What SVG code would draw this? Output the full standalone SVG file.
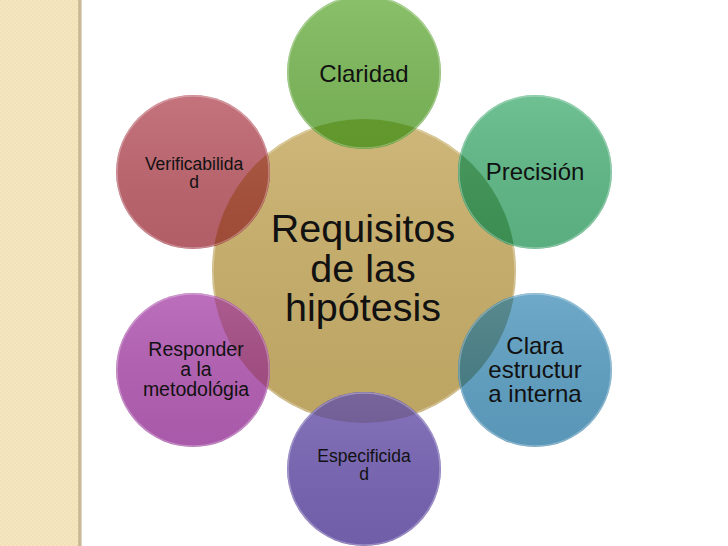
<svg xmlns="http://www.w3.org/2000/svg" width="728" height="546" viewBox="0 0 728 546">
<style>
  .lbl { font-family: "Liberation Sans", Arial, sans-serif; fill: #111; text-anchor: middle; }
  .rim { fill: none; stroke: #ffffff; stroke-opacity: 0.3; stroke-width: 1.5; }
</style>
<defs>
  <clipPath id="cc"><circle cx="364" cy="271" r="152"/></clipPath>
  <linearGradient id="gloss" x1="0" y1="0" x2="0" y2="1">
    <stop offset="0" stop-color="#fff" stop-opacity="0.10"/>
    <stop offset="1" stop-color="#000" stop-opacity="0.06"/>
  </linearGradient>
  <linearGradient id="edge" x1="0" y1="0" x2="1" y2="0">
    <stop offset="0" stop-color="#d9c9a4"/>
    <stop offset="0.5" stop-color="#bfae8a"/>
    <stop offset="1" stop-color="#e8e0cf"/>
  </linearGradient>
  <pattern id="chk" width="4" height="4" patternUnits="userSpaceOnUse">
    <rect width="4" height="4" fill="#f6e6bf"/>
    <rect width="2" height="2" fill="#f2e1b8"/>
    <rect x="2" y="2" width="2" height="2" fill="#f2e1b8"/>
  </pattern>
</defs>
<rect width="728" height="546" fill="#ffffff"/>
<g id="panel">
  <rect x="0" y="0" width="78" height="546" fill="url(#chk)"/>
  <rect x="78" y="0" width="4" height="546" fill="url(#edge)"/>
</g>
<g id="center">
  <circle cx="364" cy="271" r="152" fill="#c9af6a"/>
  <circle cx="364" cy="271" r="152" fill="url(#gloss)"/>
  <circle cx="364" cy="271" r="151" class="rim" stroke-opacity="0.2"/>
</g>
<g id="claridad">
  <circle cx="364" cy="72" r="77" fill="#7db95a"/>
  <circle cx="364" cy="72" r="77" fill="#67a02e" clip-path="url(#cc)"/>
  <circle cx="364" cy="72" r="77" fill="url(#gloss)"/>
  <circle cx="364" cy="72" r="76" class="rim"/>
  <text class="lbl" x="364" y="82" font-size="24">Claridad</text>
</g>
<g id="precision">
  <circle cx="535" cy="172" r="77" fill="#5fb987"/>
  <circle cx="535" cy="172" r="77" fill="#3f9657" clip-path="url(#cc)"/>
  <circle cx="535" cy="172" r="77" fill="url(#gloss)"/>
  <circle cx="535" cy="172" r="76" class="rim"/>
  <text class="lbl" x="535" y="180" font-size="24">Precisión</text>
</g>
<g id="clara-estructura">
  <circle cx="535" cy="370" r="77" fill="#5fa0c3"/>
  <circle cx="535" cy="370" r="77" fill="#467d84" clip-path="url(#cc)"/>
  <circle cx="535" cy="370" r="77" fill="url(#gloss)"/>
  <circle cx="535" cy="370" r="76" class="rim"/>
  <text class="lbl" x="535" y="354" font-size="24">Clara</text>
  <text class="lbl" x="535" y="378" font-size="24">estructur</text>
  <text class="lbl" x="535" y="402" font-size="24">a interna</text>
</g>
<g id="especificidad">
  <circle cx="364" cy="469" r="77" fill="#7864b4"/>
  <circle cx="364" cy="469" r="77" fill="#685491" clip-path="url(#cc)"/>
  <circle cx="364" cy="469" r="77" fill="url(#gloss)"/>
  <circle cx="364" cy="469" r="76" class="rim"/>
  <text class="lbl" x="364" y="462" font-size="17.5">Especificida</text>
  <text class="lbl" x="364" y="480" font-size="17.5">d</text>
</g>
<g id="responder">
  <circle cx="193" cy="370" r="77" fill="#b45fb4"/>
  <circle cx="193" cy="370" r="77" fill="#a34a82" clip-path="url(#cc)"/>
  <circle cx="193" cy="370" r="77" fill="url(#gloss)"/>
  <circle cx="193" cy="370" r="76" class="rim"/>
  <text class="lbl" x="196" y="356" font-size="19.5">Responder</text>
  <text class="lbl" x="196" y="376" font-size="19.5">a la</text>
  <text class="lbl" x="196" y="396" font-size="19.5">metodológia</text>
</g>
<g id="verificabilidad">
  <circle cx="193" cy="172" r="77" fill="#be646e"/>
  <circle cx="193" cy="172" r="77" fill="#a8503a" clip-path="url(#cc)"/>
  <circle cx="193" cy="172" r="77" fill="url(#gloss)"/>
  <circle cx="193" cy="172" r="76" class="rim"/>
  <text class="lbl" x="194" y="170" font-size="17.5">Verificabilida</text>
  <text class="lbl" x="194" y="188" font-size="17.5">d</text>
</g>
<g id="center-label">
  <text class="lbl" x="363" y="242" font-size="39.5">Requisitos</text>
  <text class="lbl" x="363" y="282" font-size="39.5">de las</text>
  <text class="lbl" x="363" y="321" font-size="39.5">hipótesis</text>
</g>
<g id="connectors"></g>
</svg>
